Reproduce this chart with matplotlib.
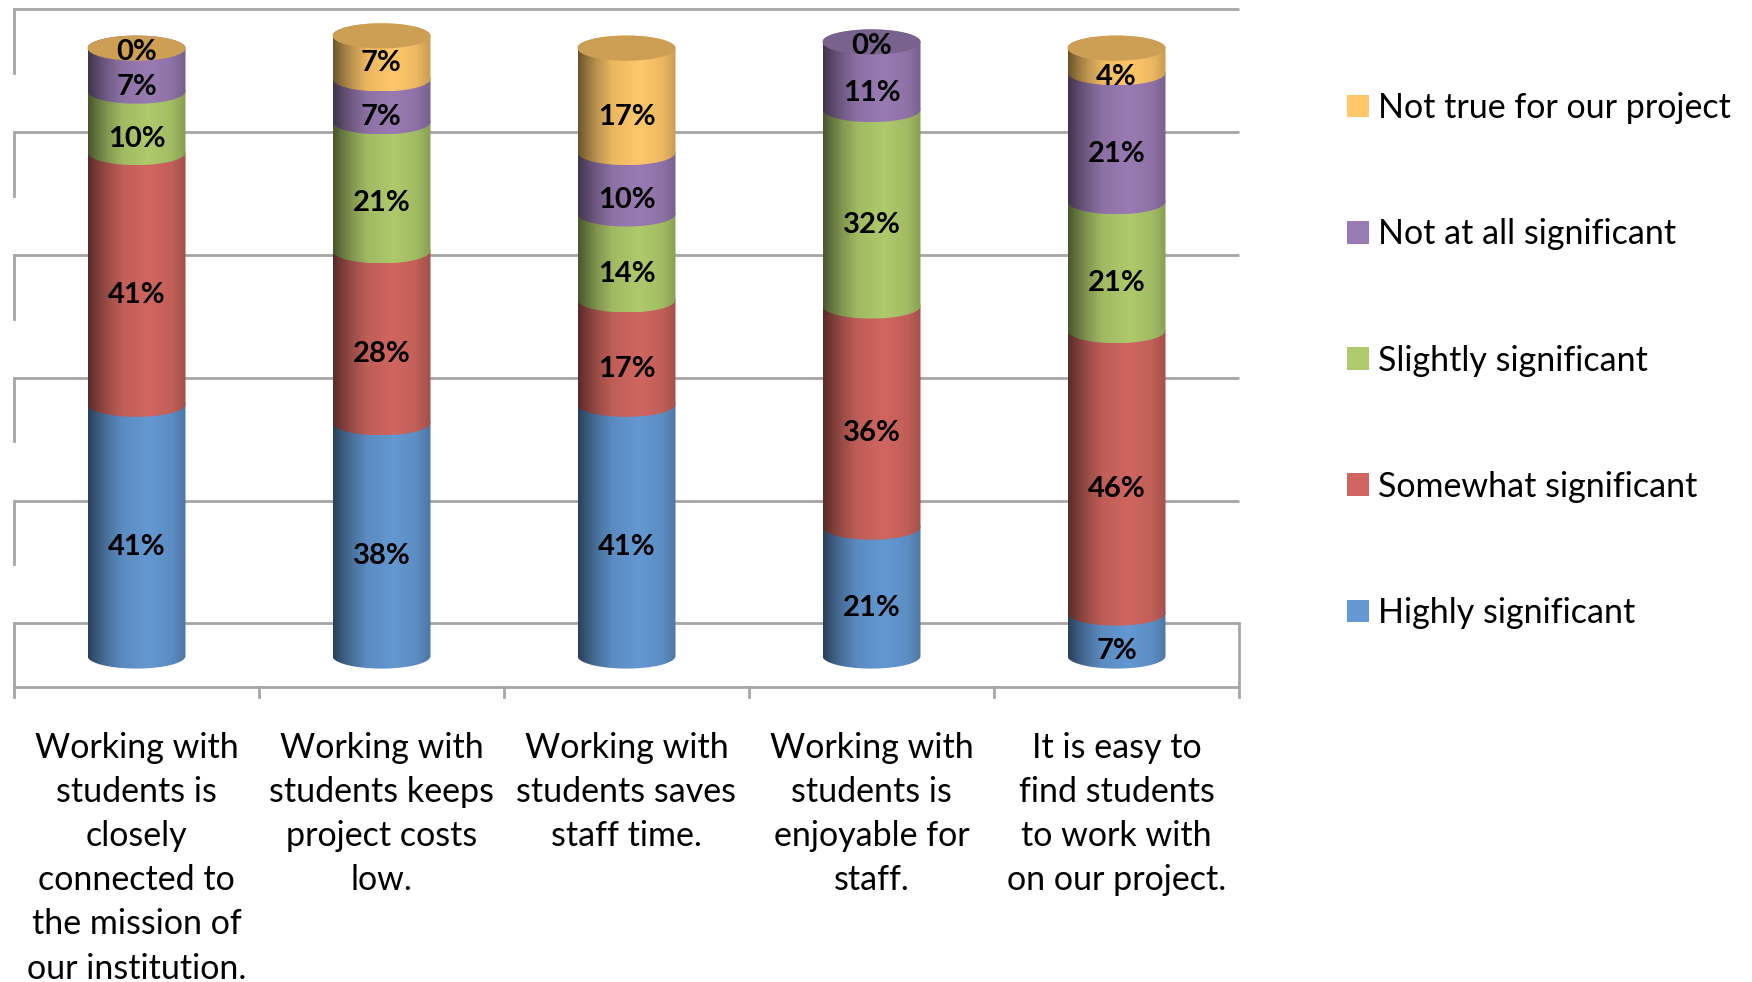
import numpy as np
import matplotlib
matplotlib.use("Agg")
import matplotlib.pyplot as plt
from matplotlib.colors import to_rgb
from matplotlib.patches import Ellipse, Patch, Polygon

plt.rcParams['font.family'] = ['Lato', 'DejaVu Sans']

# ---------- data ----------
categories = [
    "Working with\nstudents is\nclosely\nconnected to\nthe mission of\nour institution.",
    "Working with\nstudents keeps\nproject costs\nlow.",
    "Working with\nstudents saves\nstaff time.",
    "Working with\nstudents is\nenjoyable for\nstaff.",
    "It is easy to\nfind students\nto work with\non our project.",
]
series_names = ["Highly significant", "Somewhat significant", "Slightly significant",
                "Not at all significant", "Not true for our project"]
highly = [41, 38, 41, 21, 7]
somewhat = [41, 28, 17, 36, 46]
slightly = [10, 21, 14, 32, 21]
not_at_all = [7, 7, 10, 11, 21]
not_true = [0, 7, 17, 0, 4]
# which series colours the top of each cylinder
cap_series = [4, 4, 4, 3, 4]
grid_values = [0, 20, 40, 60, 80, 100]

colors = ["#6398D2", "#D0665F", "#AECA6B", "#997BB3", "#FFC76A"]
wall = "#A6A6A6"

# ---------- 3d look, in data units ----------
BAR_W = 0.4
RX = BAR_W / 2
RY = 2.05        # half height of the ellipses
BACK = 5.3       # back wall sits this far above the bars
DEPTH = 10.35    # height of the side wall / floor

stops = [0, 0.1, 0.2, 0.35, 0.62, 0.85, 1]
shade = [0.42, 0.6, 0.75, 0.92, 1, 0.93, 0.78]


def gradient(color):
    t = np.linspace(0, 1, 200)
    f = np.interp(t, stops, shade)
    return np.outer(f, to_rgb(color))[None, :, :]


def draw_segment(ax, x, y0, y1, color, z):
    # bottom edge bulges down, so it overlaps the segment under it
    t = np.linspace(np.pi, 2 * np.pi, 60)
    low = np.c_[x + RX * np.cos(t), y0 + RY * np.sin(t)]
    up = np.c_[x + RX * np.cos(t[::-1]), y1 - RY * np.sin(t[::-1])]
    clip = Polygon(np.vstack([low, up]), closed=True, transform=ax.transData, fc="none", ec="none")
    ax.add_patch(clip)
    im = ax.imshow(gradient(color), extent=[x - RX, x + RX, y0 - RY, y1 + RY],
                   aspect="auto", zorder=z, interpolation="bilinear")
    im.set_clip_path(clip)


fig = plt.figure(figsize=(17.52, 9.82), dpi=100)
ax = fig.add_axes([0, 0, 1, 1])
ax.axis("off")

# ---------- walls ----------
for v in grid_values:
    ax.plot([-0.5, 4.5], [v + BACK, v + BACK], color=wall, lw=2, zorder=1, solid_capstyle="butt")
    ax.plot([-0.5, -0.5], [v + BACK, v + BACK - DEPTH], color=wall, lw=2, zorder=1)
floor = BACK - DEPTH
ax.plot([4.5, 4.5], [BACK, floor], color=wall, lw=2, zorder=1)
ax.plot([-0.5, 4.5], [floor, floor], color=wall, lw=2, zorder=1)
for i in range(6):
    ax.plot([i - 0.5, i - 0.5], [floor, floor - 1.7], color=wall, lw=2, zorder=1)

# ---------- cylinders ----------
table = [highly, somewhat, slightly, not_at_all, not_true]
for i in range(len(categories)):
    base = 0
    z = 2
    for s, vals in enumerate(table):
        v = vals[i]
        if v > 0:
            draw_segment(ax, i, base, base + v, colors[s], z)
            z += 1
        base += v
    cap = np.array(to_rgb(colors[cap_series[i]])) * 0.8
    ax.add_patch(Ellipse((i, base), BAR_W, 2 * RY, fc=cap, ec="none", zorder=z))

    # value labels
    base = 0
    for s, vals in enumerate(table):
        v = vals[i]
        off = 2.75 if v > 0 else 0.7
        if i == 1 and s == 4:
            off = 1.0    # the top label of bar 2 sits higher in the original
        ax.text(i, base + v / 2 - off, f"{v}%", ha="center", va="center", fontsize=21,
                fontweight="bold", color="black", zorder=20)
        base += v

    ax.text(i, -12.3, categories[i], ha="center", va="top", fontsize=24.5, color="black",
            linespacing=1.47, zorder=20)

# ---------- legend ----------
handles = [Patch(fc=c, ec="none") for c in colors[::-1]]
fig.legend(handles, series_names[::-1], loc="upper left", bbox_to_anchor=(1347 / 1752, 1 - 92 / 982),
           frameon=False, fontsize=24.5, handlelength=0.65, handleheight=0.65,
           handletextpad=0.27, labelspacing=2.77, borderpad=0, borderaxespad=0)

# 245 px per category, 6.14 px per percent, zero at pixel (136.5, 656)
ax.set_xlim(-136.5 / 245, (1752 - 136.5) / 245)
ax.set_ylim(-(982 - 656) / 6.14, 656 / 6.14)

fig.savefig("out.png", dpi=100)
